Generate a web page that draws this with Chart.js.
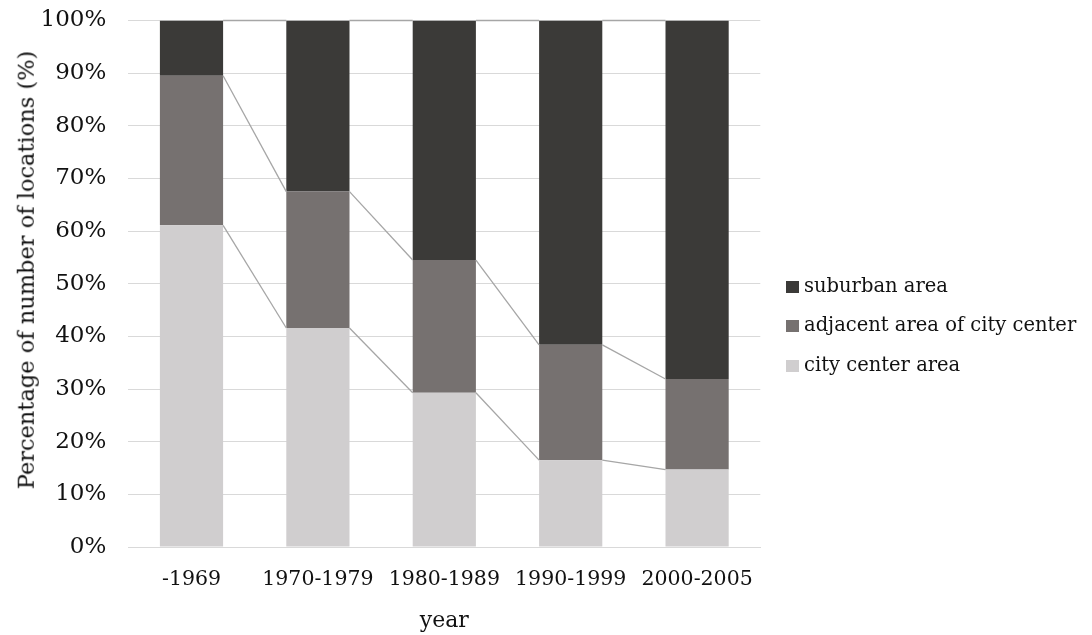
<!DOCTYPE html>
<html>
<head>
<meta charset="utf-8">
<script src="https://cdn.jsdelivr.net/npm/chart.js@4.4.0/dist/chart.umd.min.js"></script>
<style>
  html, body { margin: 0; padding: 0; background: #fff; }
  #wrap { position: relative; width: 1092px; height: 635px; overflow: hidden; }
  #ytitle {
    position: absolute; left: 26px; top: 270px;
    transform: translate(-50%, -50%) rotate(-90deg);
    font-family: "DejaVu Serif", serif; font-size: 22.5px; color: #111;
    white-space: nowrap; line-height: 1;
  }
  .leg { position: absolute; left: 786px; font-family: "DejaVu Serif", serif; font-size: 19.5px; color: #111; white-space: nowrap; line-height: 19.5px; }
  .leg i { display: inline-block; width: 13px; height: 12px; margin-right: 5px; vertical-align: -1px; }
</style>
</head>
<body>
<div id="wrap">
  <canvas id="c" width="1092" height="635"></canvas>
  <div id="ytitle">Percentage of number of locations (%)</div>
  <div id="legend"></div>
</div>
<script>
const categories = ['-1969', '1970-1979', '1980-1989', '1990-1999', '2000-2005'];
const cityCenter = [61.1, 41.6, 29.3, 16.5, 14.7];
const adjacentArea = [28.4, 25.9, 25.2, 21.9, 17.2];
const suburbanArea = [10.5, 32.5, 45.5, 61.6, 68.1];
const seriesNames = ['city center area', 'adjacent area of city center', 'suburban area'];
const seriesColors = ['#d0cecf', '#767170', '#3b3a38'];
const yTickLabels = ['0%', '10%', '20%', '30%', '40%', '50%', '60%', '70%', '80%', '90%', '100%'];
const xTitle = 'year';

const seriesLines = {
  id: 'seriesLines',
  afterDatasetsDraw(chart) {
    const ctx = chart.ctx;
    ctx.save();
    ctx.strokeStyle = '#a6a6a6';
    ctx.lineWidth = 1.3;
    chart.data.datasets.forEach((ds, di) => {
      const meta = chart.getDatasetMeta(di);
      for (let i = 0; i < meta.data.length - 1; i++) {
        const a = meta.data[i], b = meta.data[i + 1];
        ctx.beginPath();
        ctx.moveTo(a.x + a.width / 2, a.y);
        ctx.lineTo(b.x - b.width / 2, b.y);
        ctx.stroke();
      }
    });
    ctx.restore();
  }
};

const datasets = [cityCenter, adjacentArea, suburbanArea].map((d, i) => ({
  label: seriesNames[i],
  data: d,
  backgroundColor: seriesColors[i],
  borderWidth: 0,
  barPercentage: 0.5,
  categoryPercentage: 1.0
}));

new Chart(document.getElementById('c'), {
  type: 'bar',
  data: { labels: categories, datasets },
  plugins: [seriesLines],
  options: {
    responsive: false,
    devicePixelRatio: 1,
    animation: false,
    layout: { padding: { top: 20.5, right: 331.7, bottom: 0, left: 0 } },
    plugins: { legend: { display: false }, tooltip: { enabled: false } },
    scales: {
      x: {
        stacked: true,
        grid: { display: false, drawTicks: false },
        border: { color: '#d9d9d9' },
        ticks: { color: '#111', font: { family: 'DejaVu Serif', size: 20.5 }, padding: 20, maxRotation: 0 },
        title: { display: true, text: xTitle, color: '#111', font: { family: 'DejaVu Serif', size: 22 }, padding: { top: 0, bottom: 1 } },
        afterFit(scale) { scale.height = 88; }
      },
      y: {
        stacked: true,
        min: 0, max: 100,
        grid: { color: '#d9d9d9', lineWidth: 1, drawTicks: true, tickLength: 22, tickColor: 'rgba(0,0,0,0)' },
        border: { display: false },
        ticks: {
          stepSize: 10,
          color: '#111',
          font: { family: 'DejaVu Serif', size: 23 },
          padding: 0,
          callback: (v, i) => yTickLabels[i]
        },
        afterFit(scale) { scale.width = 128.3; }
      }
    }
  }
});

const legendEl = document.getElementById('legend');
const legendTops = [275.5, 315.2, 354.9];
[2, 1, 0].forEach((si, k) => {
  const d = document.createElement('div');
  d.className = 'leg';
  d.style.top = legendTops[k] + 'px';
  d.innerHTML = '<i style="background:' + seriesColors[si] + '"></i>' + seriesNames[si];
  legendEl.appendChild(d);
});
</script>
</body>
</html>
